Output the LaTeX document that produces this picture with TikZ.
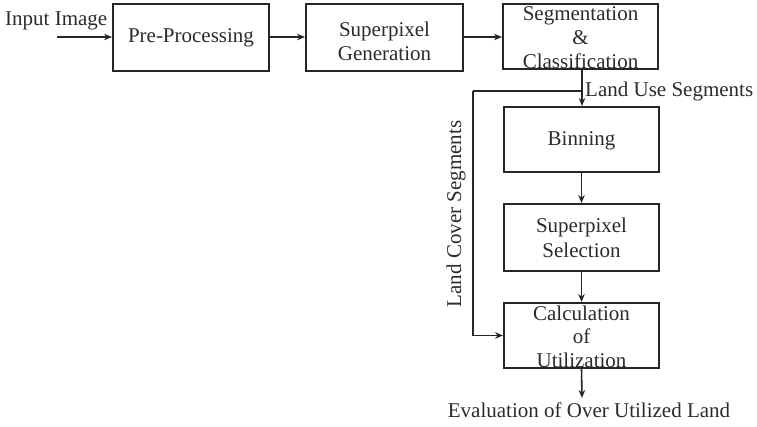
\documentclass[tikz,border=0pt]{standalone}
\usepackage{fontspec}
\setmainfont{Liberation Serif}
\usetikzlibrary{arrows.meta}
\definecolor{ink}{HTML}{2B2B2B}
\begin{document}
\begin{tikzpicture}[x=1pt,y=-1pt,
  txt/.style={text=ink,font=\fontsize{21}{24}\selectfont,inner sep=0pt,align=center},
  stage/.style={draw=black!85,line width=2pt,inner sep=0pt,minimum width=#1},
  stage/.default=155pt,
  flow/.style={line width=1.6pt,draw=black!85,-{Stealth[length=8pt,width=6.5pt]}},
  wire/.style={line width=1.6pt,draw=black!85}]
\useasboundingbox (0,0) rectangle (757,426);

% pipeline boxes
\node[stage=156pt,minimum height=67pt] (pre) at (191,37.5) {};
\node[stage=157pt,minimum height=67pt] (sup) at (384.5,37.5) {};
\node[stage,minimum height=65pt] (seg) at (580.5,36.5) {};
\node[stage,minimum height=65pt] (bin) at (581.5,139.5) {};
\node[stage,minimum height=67pt] (sel) at (581.5,237.5) {};
\node[stage,minimum height=65pt] (calc) at (581.5,335.5) {};

% box texts
\node[txt,anchor=base] (pret) at (191,42.5) {Pre-Processing};
\node[txt] (supt) at ([yshift=-3.4pt]sup.center) {Superpixel\\Generation};
\node[txt] (segt) at ([yshift=-1.4pt]seg.center) {Segmentation\\\&\\Classification};
\node[txt,anchor=base] (bint) at (581.5,145) {Binning};
\node[txt,font=\fontsize{21}{25}\selectfont] (selt) at (sel.center) {Superpixel\\Selection};
\node[txt,font=\fontsize{21}{23.5}\selectfont] (calct) at ([yshift=-1pt]calc.center) {Calculation\\of\\Utilization};

% free labels
\node[txt,anchor=base west] (inp) at (5,25) {Input Image};
\coordinate (inpstart) at (57,37);
\coordinate (split) at (582,91);
\coordinate (corner) at (473,91);
\coordinate (evalend) at (582,398);
\node[txt,anchor=base west] (use) at (585,96.5) {Land Use Segments};
\node[txt,rotate=90,anchor=base] (cover) at (461,214) {Land Cover Segments};
\node[txt,anchor=base] (eval) at (589,417) {Evaluation of Over Utilized Land};

% connectors
\draw[flow] (inpstart) -- (pre.west |- inpstart);
\draw[flow] (pre.east |- 0,37) -- (sup.west |- 0,37);
\draw[flow] (sup.east |- 0,37) -- (seg.west |- 0,37);
\draw[flow] (split |- seg.south) -- (bin.north -| split);
\draw[wire] (split) -- (corner);
\draw[flow] (corner) -- (corner |- calc.west) -- (calc.west);
\draw[flow] (bin.south) -- (sel.north);
\draw[flow] (sel.south) -- (calc.north);
\draw[flow] (calc.south) -- (evalend);
\end{tikzpicture}
\end{document}
